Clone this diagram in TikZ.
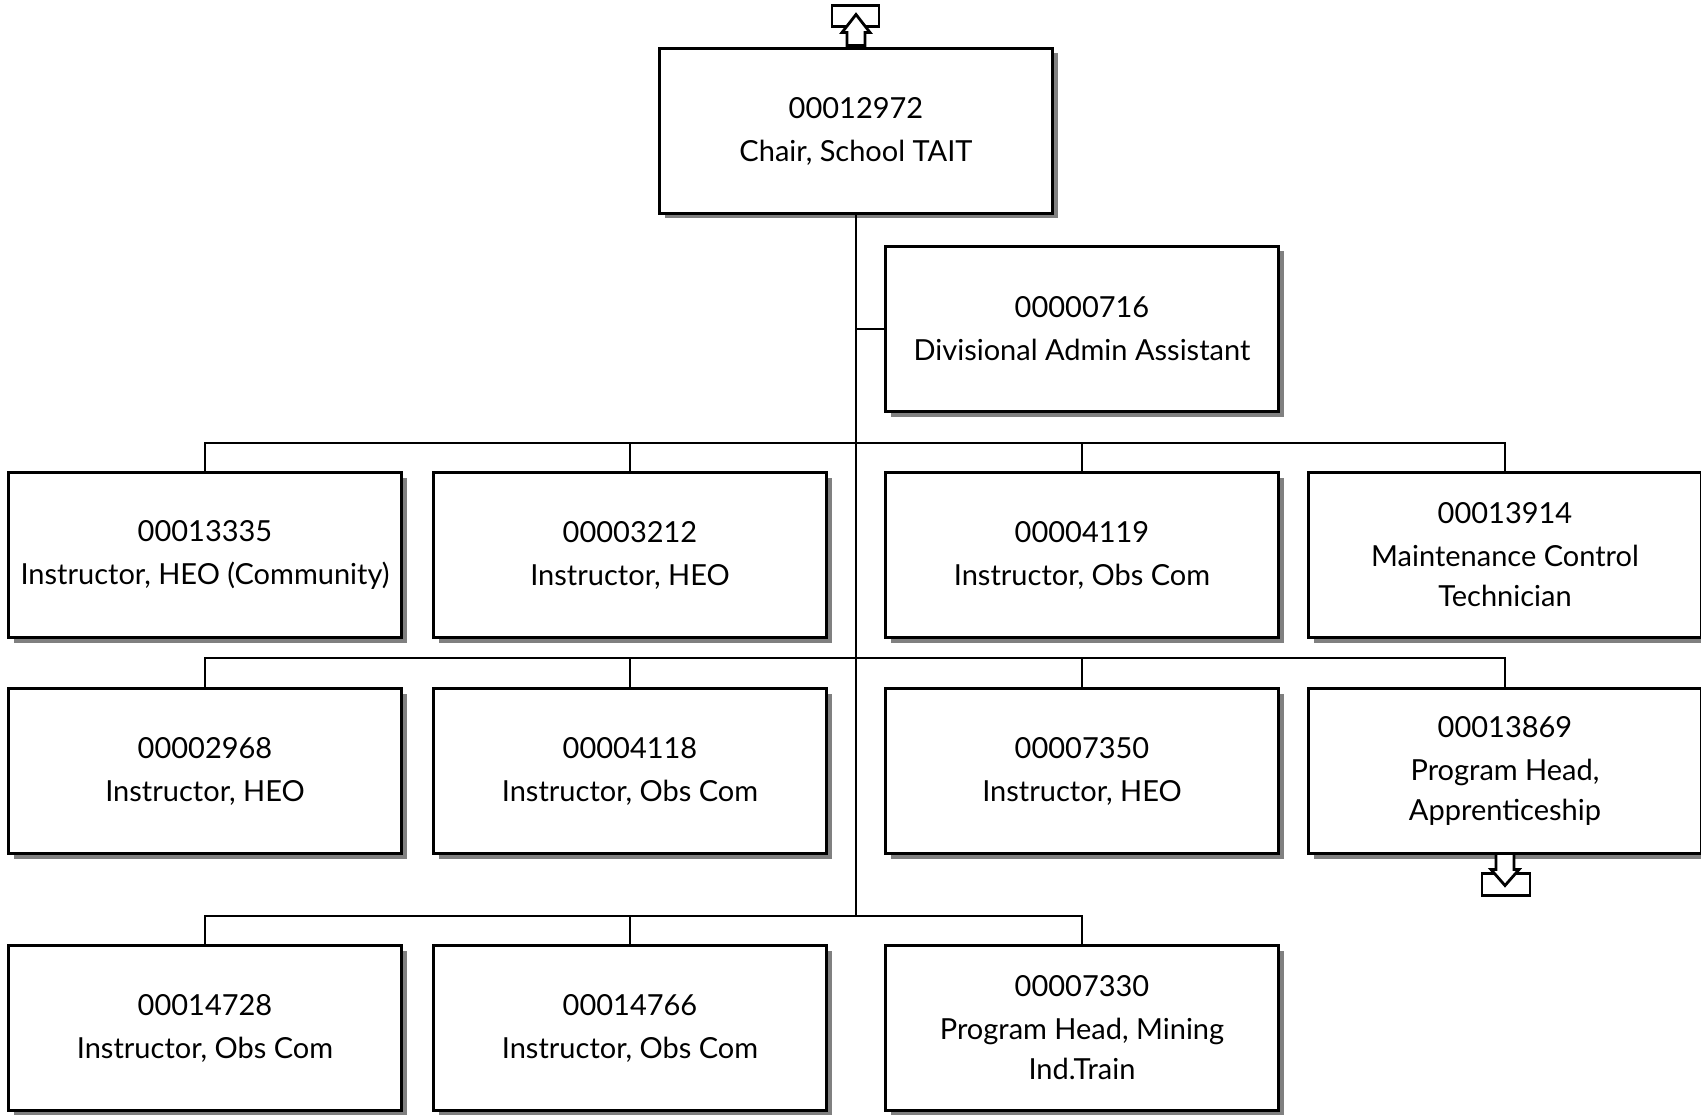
\documentclass[tikz,border=0pt]{standalone}
\usepackage{fontspec}
\setmainfont{Lato}
\usetikzlibrary{positioning,shadows}

\tikzset{
  post/.style={draw, line width=2.5pt, fill=white, minimum width=393pt, minimum height=165pt,
    inner sep=0pt, outer sep=0pt, align=center, font=\fontsize{29}{40}\selectfont,
    drop shadow={shadow xshift=5pt, shadow yshift=-5pt, fill=black!50, opacity=1}},
  link/.style={line width=2pt},
  offpage/.style={line width=2.8pt, fill=white}
}

\begin{document}
\begin{tikzpicture}[x=1pt,y=-1pt]
        \useasboundingbox (0,0) rectangle (1701,1115);
        \node[post] (p12972) at (856,131) {00012972\\[3pt]Chair, School TAIT};
        % first row
        \node[post] (p13335) at (205,555) {00013335\\[3pt]Instructor, HEO (Community)};
        \node[post,right=32pt of p13335] (p03212) {00003212\\[3pt]Instructor, HEO};
        \node[post,right=59pt of p03212] (p04119) {00004119\\[3pt]Instructor, Obs Com};
        \node[post,right=30pt of p04119] (p13914) {00013914\\[3pt]Maintenance Control\\Technician};
        \node[post,above=61pt of p04119] (p00716) {00000716\\[3pt]Divisional Admin Assistant};
        % second row
        \node[post,below=51pt of p13335] (p02968) {00002968\\[3pt]Instructor, HEO};
        \node[post,below=51pt of p03212] (p04118) {00004118\\[3pt]Instructor, Obs Com};
        \node[post,below=51pt of p04119] (p07350) {00007350\\[3pt]Instructor, HEO};
        \node[post,below=51pt of p13914] (p13869) {00013869\\[3pt]Program Head,\\Apprenticeship};
        % third row
        \node[post,below=92pt of p02968] (p14728) {00014728\\[3pt]Instructor, Obs Com};
        \node[post,below=92pt of p04118] (p14766) {00014766\\[3pt]Instructor, Obs Com};
        \node[post,below=92pt of p07350] (p07330) {00007330\\[3pt]Program Head, Mining\\Ind.Train};

        \path (p13335.north) ++(0,-30) coordinate (bus1);
        \path (p02968.north) ++(0,-31) coordinate (bus2);
        \path (p14728.north) ++(0,-30) coordinate (bus3);

        \draw[link] (p12972.south) -- (p12972.south |- bus3);
        \draw[link] (p00716.west) -- (p00716.west -| p12972.south);
        \draw[link] (p13335.north) -- (bus1) -| (p13914.north);
        \draw[link] (p03212.north) -- (p03212.north |- bus1);
        \draw[link] (p04119.north) -- (p04119.north |- bus1);
        \draw[link] (p02968.north) -- (bus2) -| (p13869.north);
        \draw[link] (p04118.north) -- (p04118.north |- bus2);
        \draw[link] (p07350.north) -- (p07350.north |- bus2);
        \draw[link] (p14728.north) -- (bus3) -| (p07330.north);
        \draw[link] (p14766.north) -- (p14766.north |- bus3);

        % off-page markers
        \begin{scope}[shift={(p12972.north)}]
          \draw[offpage] (-24,-43) rectangle (23,-22);
          \draw[offpage] (-9,-3) -- (-9,-16) -- (-14,-16) -- (0,-34) -- (14,-16) -- (9,-16) -- (9,-3) -- cycle;
        \end{scope}
        \begin{scope}[shift={(p13869.south)}]
          \draw[offpage] (-23,20) rectangle (25,42);
          \draw[offpage] (-9,0) -- (-9,16) -- (-14,16) -- (0,32) -- (14,16) -- (9,16) -- (9,0) -- cycle;
        \end{scope}
    \end{tikzpicture}
\end{document}
